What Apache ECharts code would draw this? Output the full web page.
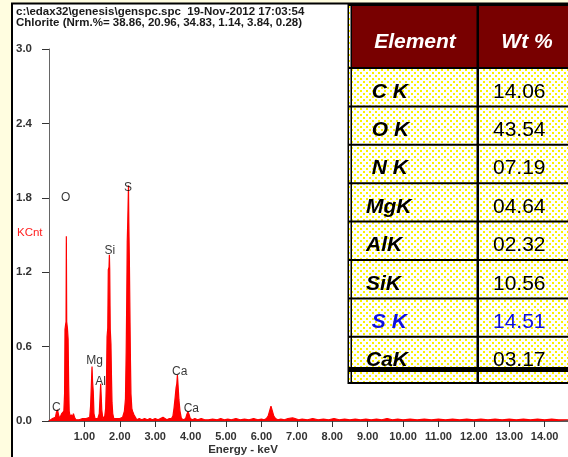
<!DOCTYPE html>
<html>
<head>
<meta charset="utf-8">
<title>Chlorite EDS spectrum</title>
<script src="https://cdn.jsdelivr.net/npm/echarts@6.0.0/dist/echarts.min.js"></script>
<style>
  html, body { margin: 0; padding: 0; background: #fffde0; }
  #chart { width: 568px; height: 457px; }
</style>
</head>
<body>
<div id="chart"></div>
<script>
// ---- spectrum (energy in keV, intensity in KCnt) ----
const energyKeV = [
  0.00, 0.05, 0.10, 0.14, 0.18, 0.21, 0.24, 0.27, 0.30, 0.33, 0.36, 0.39, 0.42, 0.44, 0.452, 0.47, 0.482, 0.49, 0.50, 0.52,
  0.54, 0.555, 0.57, 0.60, 0.63, 0.66, 0.69, 0.72, 0.76, 0.80, 0.85, 0.90, 0.95, 1.00, 1.05, 1.10, 1.15, 1.175, 1.195, 1.215,
  1.23, 1.25, 1.27, 1.30, 1.34, 1.38, 1.42, 1.44, 1.46, 1.475, 1.49, 1.52, 1.55, 1.575, 1.60, 1.625, 1.64, 1.66, 1.675, 1.695,
  1.706, 1.715, 1.73, 1.75, 1.765, 1.78, 1.80, 1.83, 1.88, 1.92, 1.96, 2.00, 2.04, 2.08, 2.10, 2.13, 2.16, 2.18, 2.195, 2.21,
  2.225, 2.24, 2.245, 2.255, 2.27, 2.285, 2.30, 2.315, 2.34, 2.37, 2.40, 2.44, 2.48, 2.55, 2.62, 2.70, 2.78, 2.85, 2.92, 3.00,
  3.08, 3.15, 3.22, 3.27, 3.33, 3.40, 3.46, 3.50, 3.53, 3.56, 3.59, 3.61, 3.627, 3.645, 3.67, 3.70, 3.74, 3.80, 3.86, 3.89,
  3.925, 3.96, 3.99, 4.05, 4.12, 4.20, 4.30, 4.40, 4.45, 4.50, 4.62, 4.75, 4.85, 4.95, 5.05, 5.15, 5.28, 5.40, 5.52, 5.65,
  5.78, 5.90, 6.00, 6.08, 6.14, 6.19, 6.23, 6.27, 6.31, 6.35, 6.40, 6.46, 6.55, 6.65, 6.75, 6.88, 6.95, 7.05, 7.15, 7.30,
  7.45, 7.60, 7.75, 7.90, 8.05, 8.20, 8.35, 8.50, 8.65, 8.80, 8.95, 9.10, 9.25, 9.40, 9.55, 9.70, 9.85, 10.0, 10.2, 10.4,
  10.6, 10.8, 11.0, 11.2, 11.4, 11.6, 11.8, 12.0, 12.2, 12.4, 12.6, 12.8, 13.0, 13.2, 13.4, 13.6, 13.8, 14.0, 14.2, 14.4,
  14.66
];
const kcnt = [
  0.00, 0.01, 0.02, 0.01, 0.03, 0.07, 0.09, 0.05, 0.02, 0.03, 0.06, 0.05, 0.08, 0.22, 0.74, 0.78, 0.80, 1.49, 0.80, 0.75,
  0.66, 0.30, 0.08, 0.03, 0.05, 0.03, 0.06, 0.03, 0.01, 0.02, 0.01, 0.01, 0.02, 0.01, 0.02, 0.02, 0.03, 0.12, 0.28, 0.44,
  0.32, 0.24, 0.06, 0.02, 0.01, 0.02, 0.06, 0.18, 0.30, 0.20, 0.09, 0.02, 0.03, 0.04, 0.10, 0.35, 0.68, 0.75, 1.22, 1.24,
  1.34, 1.22, 0.74, 0.62, 0.35, 0.15, 0.06, 0.02, 0.01, 0.02, 0.01, 0.02, 0.02, 0.03, 0.04, 0.08, 0.18, 0.55, 0.95, 1.45,
  1.61, 1.62, 1.90, 1.60, 1.30, 0.90, 0.50, 0.22, 0.10, 0.07, 0.05, 0.03, 0.01, 0.02, 0.01, 0.02, 0.01, 0.02, 0.01, 0.02,
  0.01, 0.02, 0.03, 0.02, 0.01, 0.02, 0.02, 0.04, 0.10, 0.18, 0.27, 0.30, 0.37, 0.29, 0.17, 0.08, 0.02, 0.01, 0.02, 0.05,
  0.075, 0.05, 0.02, 0.01, 0.02, 0.01, 0.02, 0.01, 0.025, 0.01, 0.015, 0.01, 0.02, 0.01, 0.015, 0.01, 0.02, 0.01, 0.015, 0.01,
  0.02, 0.01, 0.015, 0.01, 0.02, 0.04, 0.08, 0.12, 0.08, 0.04, 0.02, 0.01, 0.015, 0.01, 0.02, 0.025, 0.02, 0.01, 0.015, 0.01,
  0.02, 0.01, 0.015, 0.01, 0.02, 0.01, 0.015, 0.01, 0.015, 0.01, 0.015, 0.01, 0.015, 0.01, 0.02, 0.01, 0.015, 0.01, 0.015, 0.01,
  0.015, 0.01, 0.015, 0.01, 0.015, 0.01, 0.015, 0.01, 0.015, 0.01, 0.015, 0.01, 0.015, 0.01, 0.015, 0.01, 0.015, 0.01, 0.015, 0.01,
  0.01
];

// ---- axes ----
const xTickValues = [1, 2, 3, 4, 5, 6, 7, 8, 9, 10, 11, 12, 13, 14];
const xMax = 14.66;
const yMin = 0, yMax = 3.0, yStep = 0.6;

// ---- element line markers ----
const peakNames  = ['C', 'O', 'Mg', 'Al', 'Si', 'S', 'Ca', 'Ca'];
const peakEnergy = [0.21, 0.47, 1.29, 1.46, 1.715, 2.23, 3.69, 4.02];
const peakLabelY = [0.11, 1.80, 0.484, 0.32, 1.37, 1.885, 0.395, 0.102];

// ---- header text ----
const headerLines = [
  'c:\\edax32\\genesis\\genspc.spc  19-Nov-2012 17:03:54',
  'Chlorite (Nrm.%= 38.86, 20.96, 34.83, 1.14, 3.84, 0.28)'
];

// ---- quantification table ----
const tableHead  = ['Element', 'Wt %'];
const elements   = [' C K', ' O K', ' N K', 'MgK', 'AlK', 'SiK', ' S K', 'CaK'];
const wtPercent  = ['14.06', '43.54', '07.19', '04.64', '02.32', '10.56', '14.51', '03.17'];
const highlightRow = 6;

const FONT = '"Liberation Sans", Arial, sans-serif';

function dotPattern() {
  const c = document.createElement('canvas');
  c.width = 6; c.height = 6;
  const g = c.getContext('2d');
  g.fillStyle = '#ffffff';
  g.fillRect(0, 0, 6, 6);
  g.fillStyle = '#fbf200';
  g.fillRect(0, 0, 2, 2);
  g.fillRect(3, 3, 2, 2);
  return c;
}

function text(x, y, str, font, fill, align, vAlign, z) {
  return {
    type: 'text', x: x, y: y, z: z == null ? 5 : z, silent: true,
    style: { text: str, font: font, fill: fill, align: align || 'left', verticalAlign: vAlign || 'middle',
             textAlign: align || 'left', textVerticalAlign: vAlign || 'middle' }
  };
}
function box(x, y, w, h, fill, z) {
  return { type: 'rect', z: z == null ? 10 : z, silent: true, shape: { x: x, y: y, width: w, height: h }, style: { fill: fill } };
}

// plot frame and captions
const graphics = [
  { type: 'rect', z: -1, silent: true, shape: { x: 12, y: 3.5, width: 620, height: 520 },
    style: { fill: '#ffffff', stroke: '#000000', lineWidth: 2 } },
  text(16, 12, headerLines[0], 'bold 11.5px ' + FONT, '#1a1a1a'),
  text(16, 23, headerLines[1], 'bold 11.5px ' + FONT, '#1a1a1a'),
  text(17, 233, 'KCnt', '11.5px ' + FONT, '#ff2020'),
  text(243, 450, 'Energy - keV', 'bold 11.5px ' + FONT, '#333333', 'center')
];

// table
const tLeft = 348, tTop = 4, tRight = 568, tBottom = 384;
const headBottom = 68, rowH = 38.4, colX = 478;
graphics.push(box(tLeft, tTop, tRight - tLeft, tBottom - tTop, { image: dotPattern(), repeat: 'repeat' }, 9));
graphics.push(box(tLeft + 3, tTop + 2, tRight - tLeft, headBottom - tTop - 3, '#780000', 10));
graphics.push(box(tLeft, tTop, tRight - tLeft, 2, '#000', 11));
graphics.push(box(tLeft - 0.5, tTop, 1.5, tBottom - tTop, '#000', 11));
graphics.push(box(tLeft + 2.5, tTop, 1.5, tBottom - tTop, '#000', 11));
graphics.push(box(colX - 1.5, tTop, 2.5, tBottom - tTop, '#000', 11));
graphics.push(box(tLeft, headBottom - 1, tRight - tLeft, 2, '#000', 11));
for (let k = 1; k < elements.length; k++) {
  graphics.push(box(tLeft, headBottom + k * rowH - 1, tRight - tLeft, 2, '#000', 11));
}
graphics.push(box(tLeft, 367, tRight - tLeft, 5, '#000', 12));
graphics.push(box(tLeft, tBottom - 2, tRight - tLeft, 2, '#000', 12));

graphics.push(text(415, 42, tableHead[0], 'italic bold 21px ' + FONT, '#ffffff', 'center', 'middle', 11));
graphics.push(text(527, 42, tableHead[1], 'italic bold 21px ' + FONT, '#ffffff', 'center', 'middle', 11));
elements.forEach(function (el, i) {
  const yMid = headBottom + (i + 1) * rowH - 14.5;
  const col = i === highlightRow ? '#1010e0' : '#000000';
  graphics.push(text(366, yMid, el, 'italic bold 21px ' + FONT, col, 'left', 'middle', 11));
  graphics.push(text(493, yMid, wtPercent[i], '21px ' + FONT, col, 'left', 'middle', 11));
});

const chart = echarts.init(document.getElementById('chart'), null, { renderer: 'canvas' });
chart.setOption({
  animation: false,
  backgroundColor: '#fffde0',
  grid: { left: 49, right: 0, top: 49, bottom: 36 },
  xAxis: {
    type: 'value', min: 0, max: xMax,
    axisLine: { show: true, onZero: false, lineStyle: { color: '#222', width: 1.5 } },
    axisTick: { show: true, length: 6, customValues: xTickValues, lineStyle: { color: '#333' } },
    axisLabel: { customValues: xTickValues, formatter: function (v) { return v.toFixed(2); },
                 margin: 10, fontSize: 11, fontWeight: 'bold', color: '#333', fontFamily: FONT },
    splitLine: { show: false }
  },
  yAxis: {
    type: 'value', min: yMin, max: yMax, interval: yStep, offset: 3,
    axisLine: { show: true, lineStyle: { color: '#666', width: 1 } },
    axisTick: { show: true, length: 7, lineStyle: { color: '#333' } },
    axisLabel: { formatter: function (v) { return v.toFixed(1); }, margin: 14,
                 fontSize: 11.5, fontWeight: 'bold', color: '#333', fontFamily: FONT },
    splitLine: { show: false }
  },
  series: [
    {
      type: 'line', z: 3, silent: true, symbol: 'none', showSymbol: false,
      data: energyKeV.map(function (e, i) { return [e, kcnt[i]]; }),
      lineStyle: { color: '#ff0000', width: 1.2 },
      areaStyle: { color: '#ff0000', opacity: 1 }
    },
    {
      type: 'scatter', z: 4, silent: true, symbolSize: 0,
      data: peakEnergy.map(function (e, i) { return { name: peakNames[i], value: [e, peakLabelY[i]] }; }),
      label: { show: true, position: 'inside', formatter: '{b}', fontSize: 12, color: '#000', fontFamily: FONT }
    }
  ],
  graphic: graphics
});
</script>
</body>
</html>
